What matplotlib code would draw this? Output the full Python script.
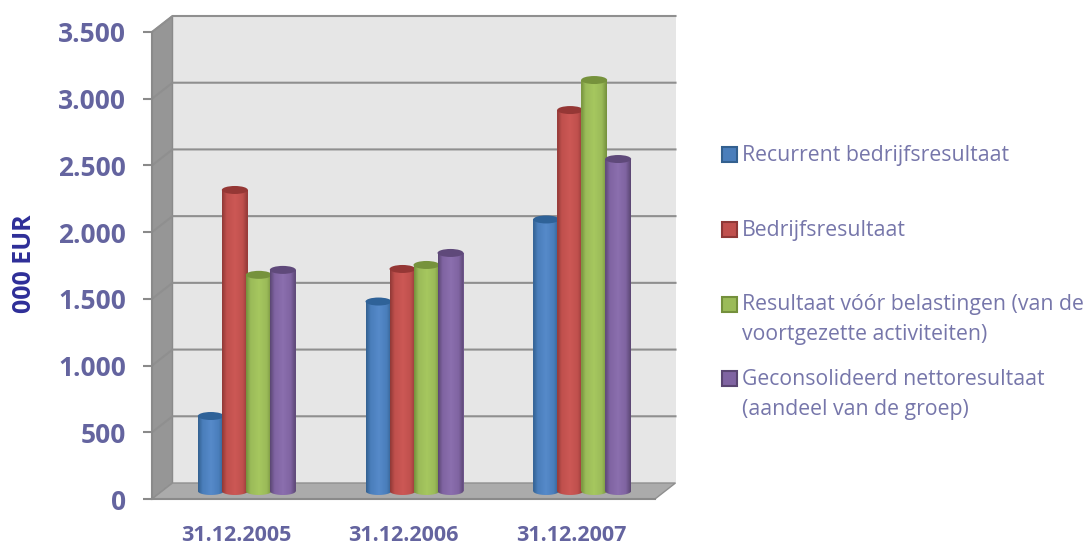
import numpy as np
import matplotlib
matplotlib.use('Agg')
import matplotlib.pyplot as plt
from matplotlib.colors import LinearSegmentedColormap
from matplotlib.patches import Ellipse, Polygon, Rectangle

# Values
dates = ['31.12.2005', '31.12.2006', '31.12.2007']
recurrent = [562, 1420, 2035]
bedrijf = [2256, 1664, 2855]
voor_belasting = [1620, 1694, 3080]
netto = [1657, 1784, 2488]
y_ticks = [0, 500, 1000, 1500, 2000, 2500, 3000, 3500]
y_labels = ['0', '500', '1.000', '1.500', '2.000', '2.500', '3.000', '3.500']

names = ['Recurrent bedrijfsresultaat', 'Bedrijfsresultaat',
         'Resultaat vóór belastingen (van de\nvoortgezette activiteiten)',
         'Geconsolideerd nettoresultaat\n(aandeel van de groep)']
series = [recurrent, bedrijf, voor_belasting, netto]

# edge, mid, light, top
colors = [('#33608f', '#4a7ebb', '#568aca', '#2f6298'),
          ('#8f3836', '#c0504d', '#cc5855', '#953735'),
          ('#74903c', '#9bbb59', '#a6c75f', '#76923c'),
          ('#5a4672', '#8064a2', '#8b6fae', '#5f497a')]

W, H = 1089, 547
fig = plt.figure(figsize=(W / 100, H / 100), dpi=100)
ax = fig.add_axes([152 / W, 1 - 499 / H, 503 / W, 467 / H])
ax.set_xlim(-0.5, 2.5)
ax.set_ylim(0, 3500)
ax.patch.set_visible(False)

# pixel sizes in data units
px_x = 3 / 503
px_y = 3500 / 467
dx = 20.5 * px_x
dy = 16 * px_y
x0, x1 = -0.5, 2.5
grid_col = '#8f8f8f'

# walls and floor
ax.add_patch(Polygon([(x0 + dx, dy), (x1 + dx, dy), (x1 + dx, 3500 + dy), (x0 + dx, 3500 + dy)],
                     fc='#e6e6e6', ec='none', clip_on=False, zorder=1))
ax.add_patch(Polygon([(x0, 0), (x0 + dx, dy), (x0 + dx, 3500 + dy), (x0, 3500)],
                     fc='#969696', ec='#8a8a8a', lw=1, clip_on=False, zorder=1))
ax.add_patch(Polygon([(x0, 0), (x1, 0), (x1 + dx, dy), (x0 + dx, dy)],
                     fc='#ababab', ec='#8f8f8f', lw=1, clip_on=False, zorder=1))
for t in y_ticks[1:]:
    ax.plot([x0, x0 + dx, x1 + dx], [t, t + dy, t + dy], color=grid_col, lw=1.5,
            clip_on=False, zorder=2)

# cylinders
bar_w = 26 * px_x
step = 24 * px_x
shift = 11 * px_x
base = 60
ell_h = 8 * px_y
xg = np.linspace(0, 1, 128).reshape(1, -1)
z = 3
for i, vals in enumerate(series):
    edge, mid, light, top = colors[i]
    cmap = LinearSegmentedColormap.from_list('c', [(0, edge), (0.18, mid), (0.5, light),
                                                   (0.8, mid), (1, edge)])
    xs = np.arange(3) + shift + (i - 1.5) * step
    bars = ax.bar(xs, vals, bar_w, bottom=base, color=mid, clip_on=False, zorder=z)
    for b, v in zip(bars, vals):
        left = b.get_x()
        right = left + bar_w
        cx = left + bar_w / 2
        t = np.linspace(np.pi, 2 * np.pi, 30)
        pts = list(zip(cx + bar_w / 2 * np.cos(t), base + ell_h / 2 * np.sin(t)))
        pts += [(right, base + v), (left, base + v)]
        body = Polygon(pts, fc='none', ec='none', transform=ax.transData)
        ax.add_patch(body)
        body.set_clip_on(False)
        im = ax.imshow(xg, extent=(left, right, base - ell_h, base + v), cmap=cmap,
                       aspect='auto', zorder=z + 0.1, clip_on=True)
        im.set_clip_path(body)
        ax.add_patch(Ellipse((cx, base + v), bar_w, ell_h, fc=top, ec='none',
                             clip_on=False, zorder=z + 0.2))
        z += 1
ax.set_xlim(-0.5, 2.5)
ax.set_ylim(0, 3500)

# axes
for s in ['top', 'right']:
    ax.spines[s].set_visible(False)
ax.spines['left'].set_color('#8a8a8a')
ax.spines['left'].set_linewidth(1.5)
ax.spines['bottom'].set_color('#8a8a8a')
ax.spines['bottom'].set_linewidth(1.5)
ax.set_yticks(y_ticks)
ax.set_yticklabels(y_labels, fontname='Open Sans', fontsize=19, fontweight='bold', color='#64649f')
ax.tick_params(axis='y', length=6.5, width=1.5, color='#8a8a8a', pad=12)
ax.set_xticks([0, 1, 2])
ax.set_xticklabels(dates, fontname='Open Sans', fontsize=15.5, fontweight='bold', color='#64649f')
ax.tick_params(axis='x', length=0, pad=18.5)
fig.text(25 / W, 1 - 264 / H, '000 EUR', rotation=90, ha='center', va='center',
         fontname='Open Sans', fontsize=18, fontweight='bold', color='#2e2e98')

# legend, the rows are not evenly spaced
legend_y = [155.5, 230.5, 319.5, 394.5]
swatch_y = [154, 229, 304, 378]
for name, col, y, sy in zip(names, colors, legend_y, swatch_y):
    fig.patches.append(Rectangle((722 / W, 1 - (sy + 7.5) / H), 15 / W, 15 / H,
                                 transform=fig.transFigure, fc=col[1], ec=col[0], lw=1.5))
    fig.text(742 / W, 1 - y / H, name, ha='left', va='center', fontname='Open Sans',
             fontsize=15.3, color='#7676aa', linespacing=1.55)

fig.savefig('out.png', dpi=100)
